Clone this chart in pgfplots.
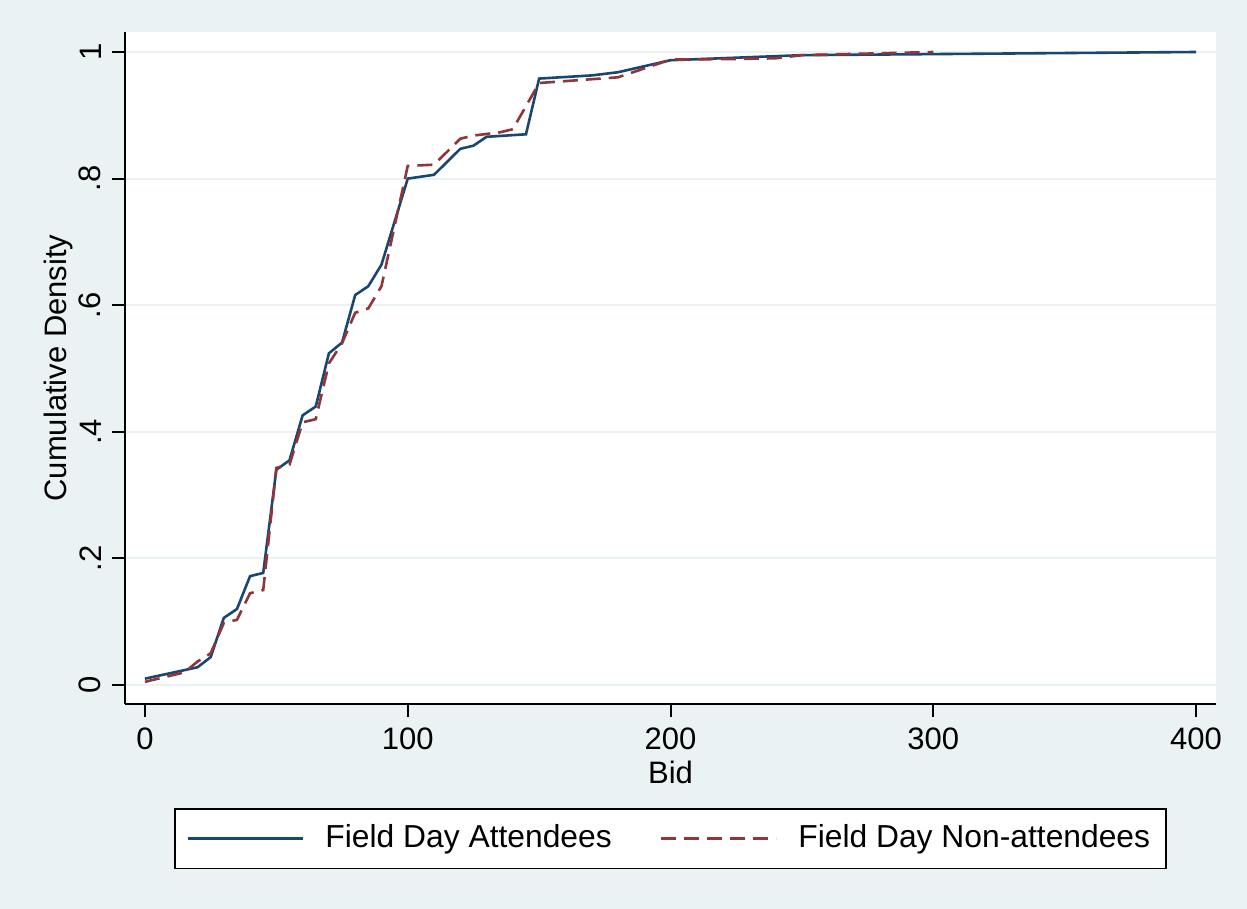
\documentclass[border=0pt]{standalone}
\usepackage{pgfplots}
\pgfplotsset{compat=1.18}
\usepackage{fontspec}
\setmainfont{Liberation Sans}
\definecolor{bg}{RGB}{234,242,243}
\definecolor{navy}{RGB}{26,71,111}
\definecolor{maroon}{RGB}{144,53,59}
\begin{document}
\fontsize{15.5bp}{18bp}\selectfont
\begin{tikzpicture}
\fill[bg] (0,0) rectangle (623.5bp,454.5bp);
\begin{axis}[
 at={(62.5bp,102.5bp)}, anchor=south west,
 scale only axis, width=545.5bp, height=336bp,
 xmin=-7.6, xmax=407.6, ymin=-0.030, ymax=1.0316,
 axis x line*=bottom, axis y line*=left,
 axis line style={black, line width=1bp, -},
 axis background/.style={fill=white},
 tick align=outside, major tick length=6.5bp,
 tick style={black, line width=1bp},
 xtick={0,100,200,300,400}, xticklabels={0,100,200,300,400},
 ytick={0,0.2,0.4,0.6,0.8,1}, yticklabels={0,.2,.4,.6,.8,1},
 yticklabel style={rotate=90, anchor=south},
 ymajorgrids, major grid style={bg, line width=1bp},
 every axis y label/.style={at={(axis description cs:-0.0532,0.5)}, rotate=90, anchor=base},
 every axis x label/.style={at={(axis description cs:0.5,-0.1176)}, anchor=base},
 xlabel={Bid}, ylabel={Cumulative Density},
 legend columns=2,
 legend style={at={(0.5,-0.1548)}, anchor=north, draw=black, line width=0.75bp, fill=white,
   font=\fontsize{15.9bp}{18bp}\selectfont,
   inner xsep=6bp, inner ysep=6bp,
   /tikz/every even column/.append style={column sep=22bp}},
 legend image code/.code={\draw[#1, line width=1.3bp] (0bp,0bp) -- (57.5bp,0bp); \path (66bp,0bp);},
]
\addplot[navy, line width=1.3bp, sharp plot] coordinates {
(0,0.010) (20,0.028) (25,0.044) (30,0.106) (35,0.120) (40,0.172) (45,0.177)
(50,0.340) (55,0.355) (60,0.426) (65,0.440) (70,0.524) (75,0.541) (80,0.616)
(85,0.630) (90,0.664) (100,0.800) (110,0.806) (120,0.847) (125,0.852) (130,0.866)
(145,0.870) (150,0.958) (170,0.963) (180,0.968) (200,0.987) (250,0.995) (400,1.000)};
\addlegendentry{Field Day Attendees}
\addplot[maroon, line width=1.3bp, sharp plot, dash pattern=on 7.5bp off 4bp] coordinates {
(0,0.005) (15,0.020) (20,0.037) (25,0.050) (30,0.098) (35,0.103) (40,0.145) (45,0.150)
(50,0.343) (55,0.348) (60,0.415) (65,0.420) (70,0.508) (75,0.540) (80,0.588)
(85,0.595) (90,0.630) (100,0.820) (110,0.822) (120,0.863) (125,0.868) (135,0.873)
(140,0.878) (150,0.951) (180,0.960) (200,0.988) (225,0.989) (240,0.990) (250,0.995) (300,1.000)};
\addlegendentry{Field Day Non-attendees}
\end{axis}
\pgfresetboundingbox
\path (0,0) rectangle (623.5bp,454.5bp);
\end{tikzpicture}
\end{document}
